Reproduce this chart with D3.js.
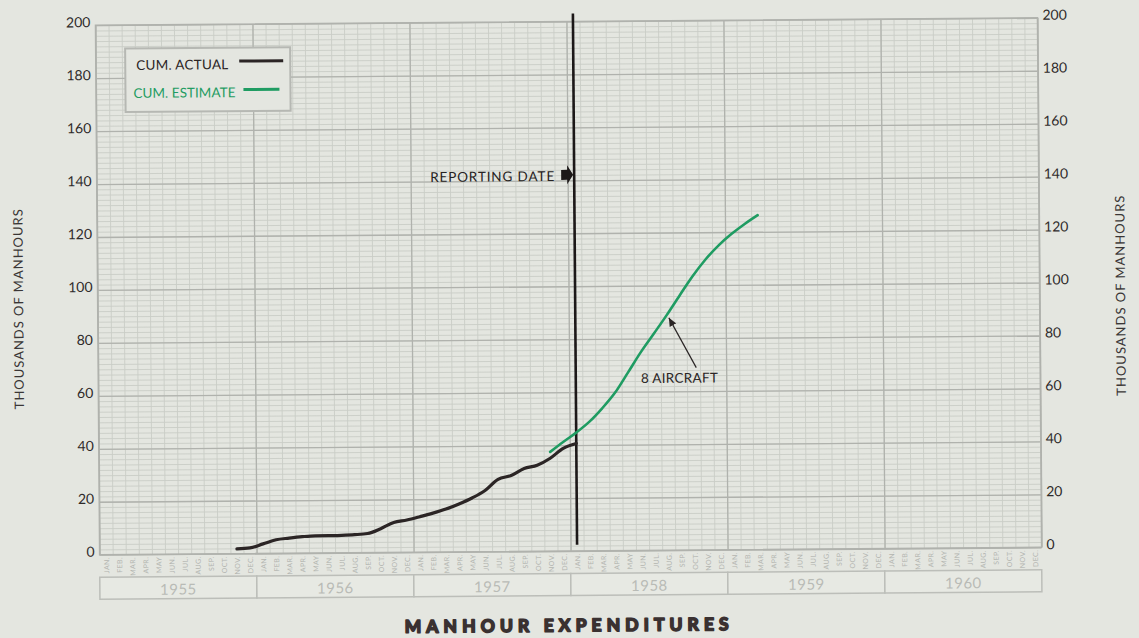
<!DOCTYPE html>
<html>
<head>
<meta charset="utf-8">
<script src="https://cdn.jsdelivr.net/npm/d3@7"></script>
<style>
  html, body { margin: 0; padding: 0; background: #e4e6e0; }
  svg { display: block; }
  text { font-family: Lato, "Open Sans", "DejaVu Sans", sans-serif; }
</style>
</head>
<body>
<svg id="chart" width="1139" height="638"></svg>
<script>
// ---- data ---------------------------------------------------------------
const years = ["1955", "1956", "1957", "1958", "1959", "1960"];
const monthNames = ["JAN.", "FEB.", "MAR.", "APR.", "MAY", "JUN.",
                    "JUL.", "AUG.", "SEP.", "OCT.", "NOV.", "DEC."];
const yTicks = [0, 20, 40, 60, 80, 100, 120, 140, 160, 180, 200];

// cumulative actual manhours (thousands), one reading per month
const actualMonths = ["1955-11", "1955-12",
  "1956-01", "1956-02", "1956-03", "1956-04", "1956-05", "1956-06",
  "1956-07", "1956-08", "1956-09", "1956-10", "1956-11", "1956-12",
  "1957-01", "1957-02", "1957-03", "1957-04", "1957-05", "1957-06",
  "1957-07", "1957-08", "1957-09", "1957-10", "1957-11", "1957-12",
  "1958-01"];
const actualValues = [1.8, 2.1,
  3.6, 5.1, 5.7, 6.2, 6.5, 6.5,
  6.6, 6.8, 7.2, 9.0, 11.3, 12.2,
  13.4, 14.7, 16.2, 18.1, 20.3, 23.1,
  27.3, 28.7, 31.3, 32.5, 35.1, 38.8,
  40.6];

// cumulative estimate (thousands)
const estimateMonths = ["1957-11", "1957-12",
  "1958-01", "1958-02", "1958-03", "1958-04", "1958-05", "1958-06",
  "1958-07", "1958-08", "1958-09", "1958-10", "1958-11", "1958-12",
  "1959-01", "1959-02", "1959-03"];
const estimateValues = [37.5, 41.2,
  44.7, 48.7, 53.8, 59.7, 67.3, 75.0,
  81.9, 88.9, 96.3, 103.5, 109.8, 115.0,
  119.3, 123.0, 126.3];

const reportingMonth = "1958-01";
const reportingSpan = [2.3, 203];
const aircraftMonth = "1958-08";
const aircraftLabel = "8 AIRCRAFT";

// ---- layout -------------------------------------------------------------
const W = 1139, H = 638;
const plot = { left: 97.5, right: 1039.5, top: 21.5, bottom: 551 };
const svg = d3.select("#chart");
const bg = "#e4e6e0";
const ink = "#2b2525";
const green = "#1f9c62";
const gridMinor = "#cacdc6";
const gridMajor = "#b0b2ad";
const faint = "#b3b5b0";

svg.append("rect").attr("width", W).attr("height", H).attr("fill", bg);

// the printed sheet sits at a slight tilt
const root = svg.append("g").attr("transform", "rotate(-0.45, 568.5, 286)");

const monthPos = s => {
  const [yy, mm] = s.split("-").map(Number);
  return (yy - 1955) * 12 + (mm - 1) + 0.5;
};

const x = d3.scaleLinear().domain([0, years.length * 12]).range([plot.left, plot.right]);
const y = d3.scaleLinear().domain([0, 200]).range([plot.bottom, plot.top]);
const pw = plot.right - plot.left, ph = plot.bottom - plot.top;

// ---- graph-paper grid ---------------------------------------------------
function styleGrid(g, color, width) {
  g.select(".domain").remove();
  g.selectAll("line").attr("stroke", color).attr("stroke-width", width);
}
root.append("g").attr("transform", `translate(${plot.left},0)`)
  .call(d3.axisLeft(y).tickValues(d3.range(0, 201, 2)).tickSize(-pw).tickFormat(""))
  .call(g => styleGrid(g, gridMinor, 0.9));
root.append("g").attr("transform", `translate(0,${plot.bottom})`)
  .call(d3.axisBottom(x).tickValues(d3.range(0, 73, 1)).tickSize(-ph).tickFormat(""))
  .call(g => styleGrid(g, gridMinor, 0.9));
root.append("g").attr("transform", `translate(${plot.left},0)`)
  .call(d3.axisLeft(y).tickValues(yTicks).tickSize(-pw).tickFormat(""))
  .call(g => styleGrid(g, gridMajor, 1.3));
root.append("g").attr("transform", `translate(0,${plot.bottom})`)
  .call(d3.axisBottom(x).tickValues(d3.range(0, 73, 12)).tickSize(-ph).tickFormat(""))
  .call(g => styleGrid(g, gridMajor, 1.3));
root.append("rect")
  .attr("x", plot.left).attr("y", plot.top).attr("width", pw).attr("height", ph)
  .attr("fill", "none").attr("stroke", gridMajor).attr("stroke-width", 1.4);

// ---- value axes ----------------------------------------------------------
root.append("g").attr("transform", `translate(${plot.left},-3)`)
  .call(d3.axisLeft(y).tickValues(yTicks).tickSize(0).tickPadding(5))
  .call(g => g.select(".domain").remove())
  .call(g => g.selectAll("text").attr("fill", "#2e2a2a").attr("font-size", 14)
    .attr("font-family", "Lato, sans-serif"));
root.append("g").attr("transform", `translate(${plot.right},-3)`)
  .call(d3.axisRight(y).tickValues(yTicks).tickSize(0).tickPadding(5))
  .call(g => g.select(".domain").remove())
  .call(g => g.selectAll("text").attr("fill", "#2e2a2a").attr("font-size", 14)
    .attr("font-family", "Lato, sans-serif"));

const axisTitle = (cx, cy) => root.append("text")
  .attr("transform", `translate(${cx},${cy}) rotate(-90)`)
  .attr("text-anchor", "middle").attr("dominant-baseline", "central")
  .attr("font-size", 13).attr("fill", "#3a3636")
  .attr("textLength", 200).attr("lengthAdjust", "spacing")
  .text("THOUSANDS OF MANHOURS");
axisTitle(18, 305);
axisTitle(1120, 300);

// ---- month labels and year boxes -----------------------------------------
const monthTicks = d3.range(0, years.length * 12).map(i => i + 0.5);
root.append("g").attr("transform", `translate(0,${plot.bottom + 2.5})`)
  .call(d3.axisBottom(x).tickValues(monthTicks).tickSize(0)
    .tickFormat(d => monthNames[Math.floor(d) % 12]))
  .call(g => g.select(".domain").remove())
  .call(g => g.selectAll("text")
    .attr("transform", "rotate(-90)")
    .attr("x", 0).attr("y", 0).attr("dy", "0.35em")
    .attr("text-anchor", "end")
    .attr("font-size", 7).attr("fill", faint)
    .attr("letter-spacing", 0.4));

const yearTop = 573.5, yearH = 22;
const yearG = root.append("g");
yearG.selectAll("rect").data(years).join("rect")
  .attr("x", (d, i) => x(i * 12)).attr("y", yearTop)
  .attr("width", (d, i) => x((i + 1) * 12) - x(i * 12)).attr("height", yearH)
  .attr("fill", "#e7e9e3").attr("stroke", "#bcbeb9").attr("stroke-width", 1.5);
yearG.selectAll("text").data(years).join("text")
  .attr("x", (d, i) => x(i * 12 + 6)).attr("y", yearTop + yearH / 2 + 1)
  .attr("text-anchor", "middle").attr("dominant-baseline", "central")
  .attr("font-size", 15).attr("fill", "#b9bbb6").attr("letter-spacing", 0.5)
  .text(d => d);

// ---- reporting date -------------------------------------------------------
const rx = x(monthPos(reportingMonth));
root.append("line")
  .attr("x1", rx).attr("x2", rx)
  .attr("y1", y(reportingSpan[1])).attr("y2", y(reportingSpan[0]))
  .attr("stroke", "#1c1818").attr("stroke-width", 2.6);
const ry = y(141.7);
root.append("text")
  .attr("x", rx - 20).attr("y", ry).attr("dominant-baseline", "central")
  .attr("text-anchor", "end").attr("font-size", 13.5).attr("fill", "#262222")
  .attr("textLength", 124).attr("lengthAdjust", "spacing")
  .text("REPORTING DATE");
root.append("path")
  .attr("transform", `translate(${rx - 1},${ry - 1})`)
  .attr("d", "M-12,-5 L-6,-5 L-6,-9.5 L0,0 L-6,9.5 L-6,5 L-12,5 Z")
  .attr("fill", "#1c1818");

// ---- lines -----------------------------------------------------------------
const actual = actualMonths.map((m, i) => ({ k: monthPos(m), v: actualValues[i] }));
const estimate = estimateMonths.map((m, i) => ({ k: monthPos(m), v: estimateValues[i] }));
const line = d3.line().x(d => x(d.k)).y(d => y(d.v)).curve(d3.curveMonotoneX);

root.append("path").datum(estimate).attr("d", line)
  .attr("fill", "none").attr("stroke", green).attr("stroke-width", 2.6)
  .attr("stroke-linecap", "round");
root.append("path").datum(actual).attr("d", line)
  .attr("fill", "none").attr("stroke", ink).attr("stroke-width", 3.2)
  .attr("stroke-linejoin", "round").attr("stroke-linecap", "round");

// ---- "8 AIRCRAFT" callout --------------------------------------------------
svg.append("defs").append("marker")
  .attr("id", "tip").attr("viewBox", "0 -4 8 8").attr("refX", 8).attr("refY", 0)
  .attr("markerWidth", 7).attr("markerHeight", 7).attr("orient", "auto")
  .append("path").attr("d", "M0,-3.5 L8,0 L0,3.5 Z").attr("fill", "#2a2525");
const ai = estimateMonths.indexOf(aircraftMonth);
const tipX = x(monthPos(aircraftMonth)) + 1, tipY = y(estimateValues[ai]) + 1;
root.append("line")
  .attr("x1", tipX + 28).attr("y1", tipY + 52)
  .attr("x2", tipX + 1).attr("y2", tipY + 2)
  .attr("stroke", "#2a2525").attr("stroke-width", 1.2)
  .attr("marker-end", "url(#tip)");
root.append("text")
  .attr("x", tipX + 11).attr("y", tipY + 67)
  .attr("text-anchor", "middle").attr("font-size", 13.5).attr("fill", "#2a2525")
  .attr("textLength", 77).attr("lengthAdjust", "spacing")
  .text(aircraftLabel);

// ---- legend -----------------------------------------------------------------
const lg = root.append("g");
lg.append("rect").attr("x", 127).attr("y", 45).attr("width", 165).attr("height", 63.5)
  .attr("fill", bg).attr("stroke", "#b6b8b3").attr("stroke-width", 2);
lg.append("text").attr("x", 138).attr("y", 66.5).attr("font-size", 13.5)
  .attr("fill", "#2a2424").attr("textLength", 92).attr("lengthAdjust", "spacing")
  .text("CUM. ACTUAL");
lg.append("line").attr("x1", 241).attr("x2", 285).attr("y1", 58.5).attr("y2", 58.5)
  .attr("stroke", ink).attr("stroke-width", 3);
lg.append("text").attr("x", 135).attr("y", 94.5).attr("font-size", 13.5)
  .attr("fill", green).attr("textLength", 102).attr("lengthAdjust", "spacing")
  .text("CUM. ESTIMATE");
lg.append("line").attr("x1", 245).attr("x2", 281).attr("y1", 87).attr("y2", 87)
  .attr("stroke", green).attr("stroke-width", 3);

// ---- title -------------------------------------------------------------------
root.append("text")
  .attr("x", 564).attr("y", 625)
  .attr("text-anchor", "middle").attr("dominant-baseline", "central")
  .attr("font-family", "'DejaVu Sans', sans-serif")
  .attr("font-size", 17.5).attr("font-weight", "bold").attr("fill", "#3a3131")
  .attr("stroke", "#3a3131").attr("stroke-width", 1.7).attr("stroke-linejoin", "round")
  .attr("textLength", 324).attr("lengthAdjust", "spacing")
  .text("MANHOUR EXPENDITURES");
</script>
</body>
</html>
